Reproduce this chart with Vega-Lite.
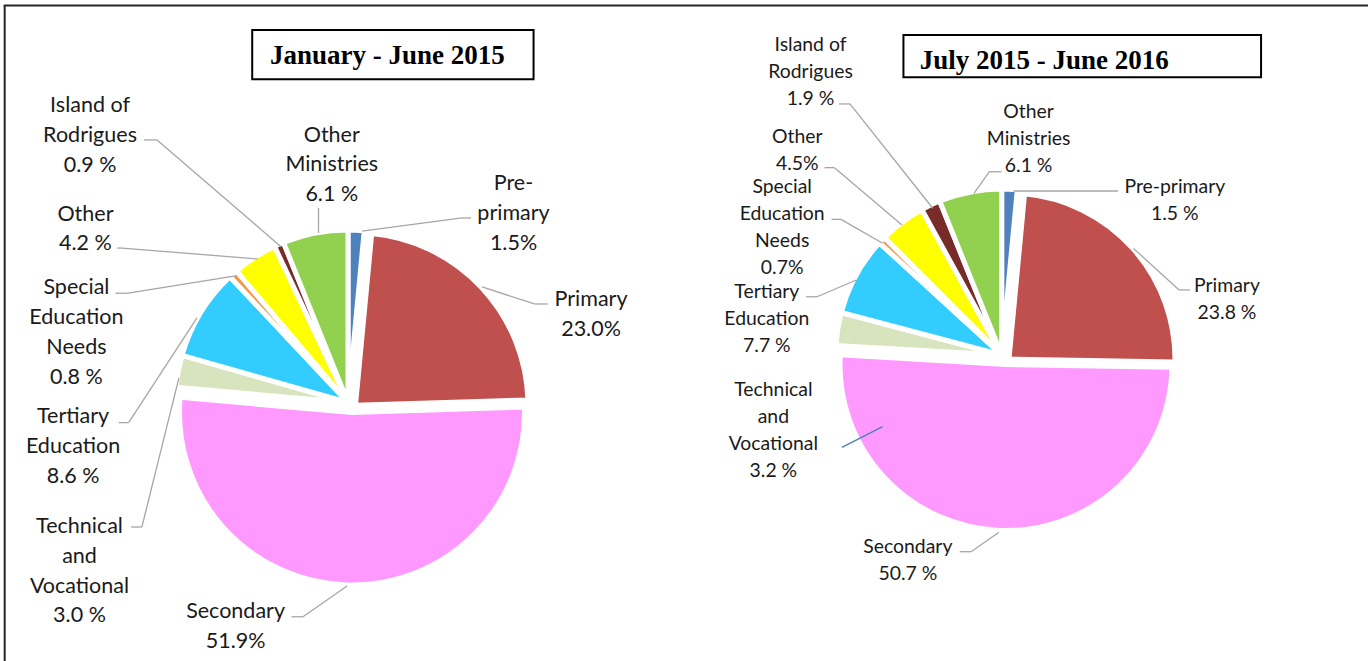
{
  "$schema": "https://vega.github.io/schema/vega-lite/v6.json",
  "padding": 0,
  "spacing": 0,
  "bounds": "flush",
  "background": "white",
  "config": {"view": {"stroke": null}},
  "datasets": {
    "jan": [
      {"category": "Pre-primary", "order": 1, "value": 1.5},
      {"category": "Primary", "order": 2, "value": 23.0},
      {"category": "Secondary", "order": 3, "value": 51.9},
      {"category": "Technical and Vocational", "order": 4, "value": 3.0},
      {"category": "Tertiary Education", "order": 5, "value": 8.6},
      {"category": "Special Education Needs", "order": 6, "value": 0.8},
      {"category": "Other", "order": 7, "value": 4.2},
      {"category": "Island of Rodrigues", "order": 8, "value": 0.9},
      {"category": "Other Ministries", "order": 9, "value": 6.1}
    ],
    "jul": [
      {"category": "Pre-primary", "order": 1, "value": 1.5},
      {"category": "Primary", "order": 2, "value": 23.8},
      {"category": "Secondary", "order": 3, "value": 50.7},
      {"category": "Technical and Vocational", "order": 4, "value": 3.2},
      {"category": "Tertiary Education", "order": 5, "value": 7.7},
      {"category": "Special Education Needs", "order": 6, "value": 0.7},
      {"category": "Other", "order": 7, "value": 4.5},
      {"category": "Island of Rodrigues", "order": 8, "value": 1.9},
      {"category": "Other Ministries", "order": 9, "value": 6.1}
    ],
    "janLabels": [
      {"category": "Island of Rodrigues", "label": "Island of\nRodrigues\n0.9 %", "lx": -154.1, "ly": 173.5, "ax": -122.4, "ay": 157.1, "ex": -114.7, "ey": 157.1, "tx": -41.8, "ty": 94.3},
      {"category": "Other Ministries", "label": "Other\nMinistries\n6.1 %", "lx": -11.9, "ly": 156.1, "ax": -19.7, "ay": 117.1, "ex": -19.7, "ey": 117.1, "tx": -19.7, "ty": 102.4},
      {"category": "Pre-primary", "label": "Pre-\nprimary\n1.5%", "lx": 95.0, "ly": 127.6, "ax": 70.0, "ay": 111.2, "ex": 64.7, "ey": 111.2, "tx": 5.9, "ty": 103.5},
      {"category": "Primary", "label": "Primary\n23.0%", "lx": 140.6, "ly": 59.4, "ax": 115.1, "ay": 60.6, "ex": 107.4, "ey": 60.6, "tx": 76.5, "ty": 70.6},
      {"category": "Other", "label": "Other\n4.2 %", "lx": -156.8, "ly": 109.7, "ax": -138.2, "ay": 93.5, "ex": -135.3, "ey": 93.5, "tx": -55.6, "ty": 87.1},
      {"category": "Special Education Needs", "label": "Special\nEducation\nNeeds\n0.8 %", "lx": -162.1, "ly": 66.2, "ax": -139.1, "ay": 66.9, "ex": -132.6, "ey": 66.9, "tx": -68.5, "ty": 77.1},
      {"category": "Tertiary Education", "label": "Tertiary\nEducation\n8.6 %", "lx": -164.1, "ly": -9.7, "ax": -137.2, "ay": -9.2, "ex": -131.4, "ey": -9.2, "tx": -91.2, "ty": 52.4},
      {"category": "Technical and Vocational", "label": "Technical\nand\nVocational\n3.0 %", "lx": -160.3, "ly": -74.1, "ax": -130.0, "ay": -70.6, "ex": -123.6, "ey": -70.6, "tx": -101.8, "ty": 17.1},
      {"category": "Secondary", "label": "Secondary\n51.9%", "lx": -68.5, "ly": -124.3, "ax": -35.6, "ay": -123.4, "ex": -28.8, "ey": -123.4, "tx": -2.9, "ty": -105.3}
    ],
    "julLabels": [
      {"category": "Island of Rodrigues", "label": "Island of\nRodrigues\n1.9 %", "lx": -119.8, "ly": 189.9, "ax": -102.3, "ay": 157.4, "ex": -95.6, "ey": 157.4, "tx": -44.8, "ty": 93.4},
      {"category": "Other Ministries", "label": "Other\nMinistries\n6.1 %", "lx": 14.0, "ly": 148.6, "ax": -2.6, "ay": 115.8, "ex": -10.1, "ey": 115.8, "tx": -19.5, "ty": 102.6},
      {"category": "Pre-primary", "label": "Pre-primary\n1.5 %", "lx": 103.7, "ly": 102.9, "ax": 68.8, "ay": 104.0, "ex": 68.8, "ey": 104.0, "tx": 4.7, "ty": 104.0},
      {"category": "Primary", "label": "Primary\n23.8 %", "lx": 135.7, "ly": 41.8, "ax": 113.0, "ay": 43.3, "ex": 106.3, "ey": 43.3, "tx": 78.3, "ty": 68.8},
      {"category": "Other", "label": "Other\n4.5%", "lx": -127.9, "ly": 133.6, "ax": -111.2, "ay": 118.3, "ex": -105.1, "ey": 118.3, "tx": -63.7, "ty": 83.1},
      {"category": "Special Education Needs", "label": "Special\nEducation\nNeeds\n0.7%", "lx": -137.2, "ly": 102.6, "ax": -106.9, "ay": 86.6, "ex": -101.1, "ey": 86.6, "tx": -75.6, "ty": 71.9},
      {"category": "Tertiary Education", "label": "Tertiary\nEducation\n7.7 %", "lx": -146.6, "ly": 38.5, "ax": -122.6, "ay": 39.1, "ex": -115.8, "ey": 39.1, "tx": -91.7, "ty": 49.4},
      {"category": "Technical and Vocational", "label": "Technical\nand\nVocational\n3.2 %", "lx": -142.6, "ly": -21.8, "ax": -100.5, "ay": -53.3, "ex": -100.5, "ey": -53.3, "tx": -75.6, "ty": -40.6},
      {"category": "Secondary", "label": "Secondary\n50.7 %", "lx": -60.1, "ly": -118.3, "ax": -28.3, "ay": -117.3, "ex": -21.3, "ey": -117.3, "tx": -4.2, "ty": -105.4}
    ]
  },
  "hconcat": [
    {
      "width": 684,
      "height": 661,
      "layer": [
        {
          "data": {"values": [{}]},
          "mark": {"type": "rule", "color": "#262626", "strokeWidth": 2},
          "encoding": {
            "x": {"datum": -204.3, "type": "quantitative", "scale": {"domain": [-207.0588, 195.2941], "nice": false, "zero": false}, "axis": null},
            "y": {"datum": 236.2, "type": "quantitative", "scale": {"domain": [-149.4118, 239.4118], "nice": false, "zero": false}, "axis": null},
            "y2": {"datum": -149.4118}
          }
        },
        {
          "data": {"values": [{}]},
          "mark": {"type": "rule", "color": "#262626", "strokeWidth": 2},
          "encoding": {
            "x": {"datum": -204.9, "type": "quantitative", "scale": {"domain": [-207.0588, 195.2941], "nice": false, "zero": false}},
            "x2": {"datum": 195.2941},
            "y": {"datum": 236.2, "type": "quantitative", "scale": {"domain": [-149.4118, 239.4118], "nice": false, "zero": false}}
          }
        },
        {
          "data": {"values": [{}]},
          "mark": {"type": "rect", "fill": "white", "stroke": "#000000", "strokeWidth": 2},
          "encoding": {
            "x": {"datum": -58.7, "type": "quantitative", "scale": {"domain": [-207.0588, 195.2941], "nice": false, "zero": false}},
            "x2": {"datum": 106.8},
            "y": {"datum": 221.8, "type": "quantitative", "scale": {"domain": [-149.4118, 239.4118], "nice": false, "zero": false}},
            "y2": {"datum": 192.8}
          }
        },
        {
          "data": {"values": [{}]},
          "mark": {"type": "text", "font": "Liberation Serif", "fontWeight": "bold", "fontSize": 27, "align": "center", "baseline": "alphabetic", "color": "#000000"},
          "encoding": {
            "x": {"datum": 20.8, "type": "quantitative", "scale": {"domain": [-207.0588, 195.2941], "nice": false, "zero": false}},
            "y": {"datum": 201.8, "type": "quantitative", "scale": {"domain": [-149.4118, 239.4118], "nice": false, "zero": false}},
            "text": {"value": "January - June 2015"}
          }
        },
        {
          "data": {"name": "jan"},
          "transform": [{"stack": "value", "groupby": [], "sort": [{"field": "order", "order": "ascending"}], "as": ["v0", "v1"]}],
          "layer": [
            {
              "transform": [{"filter": "datum.category !== 'Secondary' && datum.category !== 'Primary'"}],
              "mark": {"type": "arc", "radius": 172.5, "stroke": "#ffffff", "strokeWidth": 5, "strokeJoin": "round"},
              "encoding": {
                "x": {"datum": -2.35, "type": "quantitative", "scale": {"domain": [-207.0588, 195.2941], "nice": false, "zero": false}},
                "y": {"datum": 2.65, "type": "quantitative", "scale": {"domain": [-149.4118, 239.4118], "nice": false, "zero": false}},
                "theta": {"field": "v0", "type": "quantitative", "scale": {"domain": [0, 100]}},
                "theta2": {"field": "v1"},
                "color": {"field": "category", "type": "nominal", "legend": null, "scale": {"domain": ["Pre-primary", "Primary", "Secondary", "Technical and Vocational", "Tertiary Education", "Special Education Needs", "Other", "Island of Rodrigues", "Other Ministries"], "range": ["#4F81BD", "#C0504D", "#FF99FF", "#D7E4BD", "#33CCFF", "#F79646", "#FFFF00", "#772C2A", "#92D050"]}}
              }
            },
            {
              "transform": [{"filter": "datum.category === 'Secondary'"}],
              "mark": {"type": "arc", "radius": 172.5, "stroke": "#ffffff", "strokeWidth": 5, "strokeJoin": "round"},
              "encoding": {
                "x": {"datum": 0, "type": "quantitative", "scale": {"domain": [-207.0588, 195.2941], "nice": false, "zero": false}},
                "y": {"datum": -3.24, "type": "quantitative", "scale": {"domain": [-149.4118, 239.4118], "nice": false, "zero": false}},
                "theta": {"field": "v0", "type": "quantitative", "scale": {"domain": [0, 100]}},
                "theta2": {"field": "v1"},
                "color": {"field": "category", "type": "nominal", "legend": null, "scale": {"domain": ["Pre-primary", "Primary", "Secondary", "Technical and Vocational", "Tertiary Education", "Special Education Needs", "Other", "Island of Rodrigues", "Other Ministries"], "range": ["#4F81BD", "#C0504D", "#FF99FF", "#D7E4BD", "#33CCFF", "#F79646", "#FFFF00", "#772C2A", "#92D050"]}}
              }
            },
            {
              "transform": [{"filter": "datum.category === 'Primary'"}],
              "mark": {"type": "arc", "radius": 172.5, "stroke": "#ffffff", "strokeWidth": 5, "strokeJoin": "round"},
              "encoding": {
                "x": {"datum": 2.06, "type": "quantitative", "scale": {"domain": [-207.0588, 195.2941], "nice": false, "zero": false}},
                "y": {"datum": 1.0, "type": "quantitative", "scale": {"domain": [-149.4118, 239.4118], "nice": false, "zero": false}},
                "theta": {"field": "v0", "type": "quantitative", "scale": {"domain": [0, 100]}},
                "theta2": {"field": "v1"},
                "color": {"field": "category", "type": "nominal", "legend": null, "scale": {"domain": ["Pre-primary", "Primary", "Secondary", "Technical and Vocational", "Tertiary Education", "Special Education Needs", "Other", "Island of Rodrigues", "Other Ministries"], "range": ["#4F81BD", "#C0504D", "#FF99FF", "#D7E4BD", "#33CCFF", "#F79646", "#FFFF00", "#772C2A", "#92D050"]}}
              }
            }
          ]
        },
        {
          "data": {"name": "janLabels"},
          "layer": [
            {
              "mark": {"type": "rule", "color": "#A6A6A6", "strokeWidth": 1.3},
              "encoding": {
                "x": {"field": "ax", "type": "quantitative", "scale": {"domain": [-207.0588, 195.2941], "nice": false, "zero": false}},
                "x2": {"field": "ex"},
                "y": {"field": "ay", "type": "quantitative", "scale": {"domain": [-149.4118, 239.4118], "nice": false, "zero": false}},
                "y2": {"field": "ey"}
              }
            },
            {
              "mark": {"type": "rule", "color": "#A6A6A6", "strokeWidth": 1.3},
              "encoding": {
                "x": {"field": "ex", "type": "quantitative", "scale": {"domain": [-207.0588, 195.2941], "nice": false, "zero": false}},
                "x2": {"field": "tx"},
                "y": {"field": "ey", "type": "quantitative", "scale": {"domain": [-149.4118, 239.4118], "nice": false, "zero": false}},
                "y2": {"field": "ty"}
              }
            },
            {
              "mark": {"type": "text", "font": "Lato", "fontSize": 21.5, "lineHeight": 29.8, "lineBreak": "\n", "align": "center", "baseline": "alphabetic", "color": "#1a1a1a"},
              "encoding": {
                "x": {"field": "lx", "type": "quantitative", "scale": {"domain": [-207.0588, 195.2941], "nice": false, "zero": false}},
                "y": {"field": "ly", "type": "quantitative", "scale": {"domain": [-149.4118, 239.4118], "nice": false, "zero": false}},
                "text": {"field": "label", "type": "nominal"}
              }
            }
          ]
        }
      ]
    },
    {
      "width": 684,
      "height": 661,
      "layer": [
        {
          "data": {"values": [{}]},
          "mark": {"type": "rule", "color": "#262626", "strokeWidth": 2},
          "encoding": {
            "x": {"datum": -197.4233, "type": "quantitative", "scale": {"domain": [-197.4233, 222.2086], "nice": false, "zero": false}, "axis": null},
            "x2": {"datum": 222.2086},
            "y": {"datum": 217.8, "type": "quantitative", "scale": {"domain": [-184.3558, 221.1656], "nice": false, "zero": false}, "axis": null}
          }
        },
        {
          "data": {"values": [{}]},
          "mark": {"type": "rect", "fill": "white", "stroke": "#000000", "strokeWidth": 2},
          "encoding": {
            "x": {"datum": -62.8, "type": "quantitative", "scale": {"domain": [-197.4233, 222.2086], "nice": false, "zero": false}},
            "x2": {"datum": 156.6},
            "y": {"datum": 199.7, "type": "quantitative", "scale": {"domain": [-184.3558, 221.1656], "nice": false, "zero": false}},
            "y2": {"datum": 173.7}
          }
        },
        {
          "data": {"values": [{}]},
          "mark": {"type": "text", "font": "Liberation Serif", "fontWeight": "bold", "fontSize": 27, "align": "center", "baseline": "alphabetic", "color": "#000000"},
          "encoding": {
            "x": {"datum": 23.6, "type": "quantitative", "scale": {"domain": [-197.4233, 222.2086], "nice": false, "zero": false}},
            "y": {"datum": 179.0, "type": "quantitative", "scale": {"domain": [-184.3558, 221.1656], "nice": false, "zero": false}},
            "text": {"value": "July 2015 - June 2016"}
          }
        },
        {
          "data": {"name": "jul"},
          "transform": [{"stack": "value", "groupby": [], "sort": [{"field": "order", "order": "ascending"}], "as": ["v0", "v1"]}],
          "layer": [
            {
              "transform": [{"filter": "datum.category !== 'Secondary' && datum.category !== 'Primary'"}],
              "mark": {"type": "arc", "radius": 166, "stroke": "#ffffff", "strokeWidth": 5, "strokeJoin": "round"},
              "encoding": {
                "x": {"datum": -2.52, "type": "quantitative", "scale": {"domain": [-197.4233, 222.2086], "nice": false, "zero": false}},
                "y": {"datum": 3.37, "type": "quantitative", "scale": {"domain": [-184.3558, 221.1656], "nice": false, "zero": false}},
                "theta": {"field": "v0", "type": "quantitative", "scale": {"domain": [0, 100.1]}},
                "theta2": {"field": "v1"},
                "color": {"field": "category", "type": "nominal", "legend": null, "scale": {"domain": ["Pre-primary", "Primary", "Secondary", "Technical and Vocational", "Tertiary Education", "Special Education Needs", "Other", "Island of Rodrigues", "Other Ministries"], "range": ["#4F81BD", "#C0504D", "#FF99FF", "#D7E4BD", "#33CCFF", "#F79646", "#FFFF00", "#772C2A", "#92D050"]}}
              }
            },
            {
              "transform": [{"filter": "datum.category === 'Secondary'"}],
              "mark": {"type": "arc", "radius": 166, "stroke": "#ffffff", "strokeWidth": 5, "strokeJoin": "round"},
              "encoding": {
                "x": {"datum": 0.12, "type": "quantitative", "scale": {"domain": [-197.4233, 222.2086], "nice": false, "zero": false}},
                "y": {"datum": -2.45, "type": "quantitative", "scale": {"domain": [-184.3558, 221.1656], "nice": false, "zero": false}},
                "theta": {"field": "v0", "type": "quantitative", "scale": {"domain": [0, 100.1]}},
                "theta2": {"field": "v1"},
                "color": {"field": "category", "type": "nominal", "legend": null, "scale": {"domain": ["Pre-primary", "Primary", "Secondary", "Technical and Vocational", "Tertiary Education", "Special Education Needs", "Other", "Island of Rodrigues", "Other Ministries"], "range": ["#4F81BD", "#C0504D", "#FF99FF", "#D7E4BD", "#33CCFF", "#F79646", "#FFFF00", "#772C2A", "#92D050"]}}
              }
            },
            {
              "transform": [{"filter": "datum.category === 'Primary'"}],
              "mark": {"type": "arc", "radius": 166, "stroke": "#ffffff", "strokeWidth": 5, "strokeJoin": "round"},
              "encoding": {
                "x": {"datum": 1.96, "type": "quantitative", "scale": {"domain": [-197.4233, 222.2086], "nice": false, "zero": false}},
                "y": {"datum": 0.86, "type": "quantitative", "scale": {"domain": [-184.3558, 221.1656], "nice": false, "zero": false}},
                "theta": {"field": "v0", "type": "quantitative", "scale": {"domain": [0, 100.1]}},
                "theta2": {"field": "v1"},
                "color": {"field": "category", "type": "nominal", "legend": null, "scale": {"domain": ["Pre-primary", "Primary", "Secondary", "Technical and Vocational", "Tertiary Education", "Special Education Needs", "Other", "Island of Rodrigues", "Other Ministries"], "range": ["#4F81BD", "#C0504D", "#FF99FF", "#D7E4BD", "#33CCFF", "#F79646", "#FFFF00", "#772C2A", "#92D050"]}}
              }
            }
          ]
        },
        {
          "data": {"name": "julLabels"},
          "layer": [
            {
              "transform": [{"filter": "datum.category !== 'Technical and Vocational'"}],
              "mark": {"type": "rule", "color": "#A6A6A6", "strokeWidth": 1.3},
              "encoding": {
                "x": {"field": "ax", "type": "quantitative", "scale": {"domain": [-197.4233, 222.2086], "nice": false, "zero": false}},
                "x2": {"field": "ex"},
                "y": {"field": "ay", "type": "quantitative", "scale": {"domain": [-184.3558, 221.1656], "nice": false, "zero": false}},
                "y2": {"field": "ey"}
              }
            },
            {
              "transform": [{"filter": "datum.category !== 'Technical and Vocational'"}],
              "mark": {"type": "rule", "color": "#A6A6A6", "strokeWidth": 1.3},
              "encoding": {
                "x": {"field": "ex", "type": "quantitative", "scale": {"domain": [-197.4233, 222.2086], "nice": false, "zero": false}},
                "x2": {"field": "tx"},
                "y": {"field": "ey", "type": "quantitative", "scale": {"domain": [-184.3558, 221.1656], "nice": false, "zero": false}},
                "y2": {"field": "ty"}
              }
            },
            {
              "transform": [{"filter": "datum.category === 'Technical and Vocational'"}],
              "mark": {"type": "rule", "color": "#4F81BD", "strokeWidth": 1.5},
              "encoding": {
                "x": {"field": "ex", "type": "quantitative", "scale": {"domain": [-197.4233, 222.2086], "nice": false, "zero": false}},
                "x2": {"field": "tx"},
                "y": {"field": "ey", "type": "quantitative", "scale": {"domain": [-184.3558, 221.1656], "nice": false, "zero": false}},
                "y2": {"field": "ty"}
              }
            },
            {
              "mark": {"type": "text", "font": "Lato", "fontSize": 19.4, "lineHeight": 26.9, "lineBreak": "\n", "align": "center", "baseline": "alphabetic", "color": "#1a1a1a"},
              "encoding": {
                "x": {"field": "lx", "type": "quantitative", "scale": {"domain": [-197.4233, 222.2086], "nice": false, "zero": false}},
                "y": {"field": "ly", "type": "quantitative", "scale": {"domain": [-184.3558, 221.1656], "nice": false, "zero": false}},
                "text": {"field": "label", "type": "nominal"}
              }
            }
          ]
        }
      ]
    }
  ]
}
